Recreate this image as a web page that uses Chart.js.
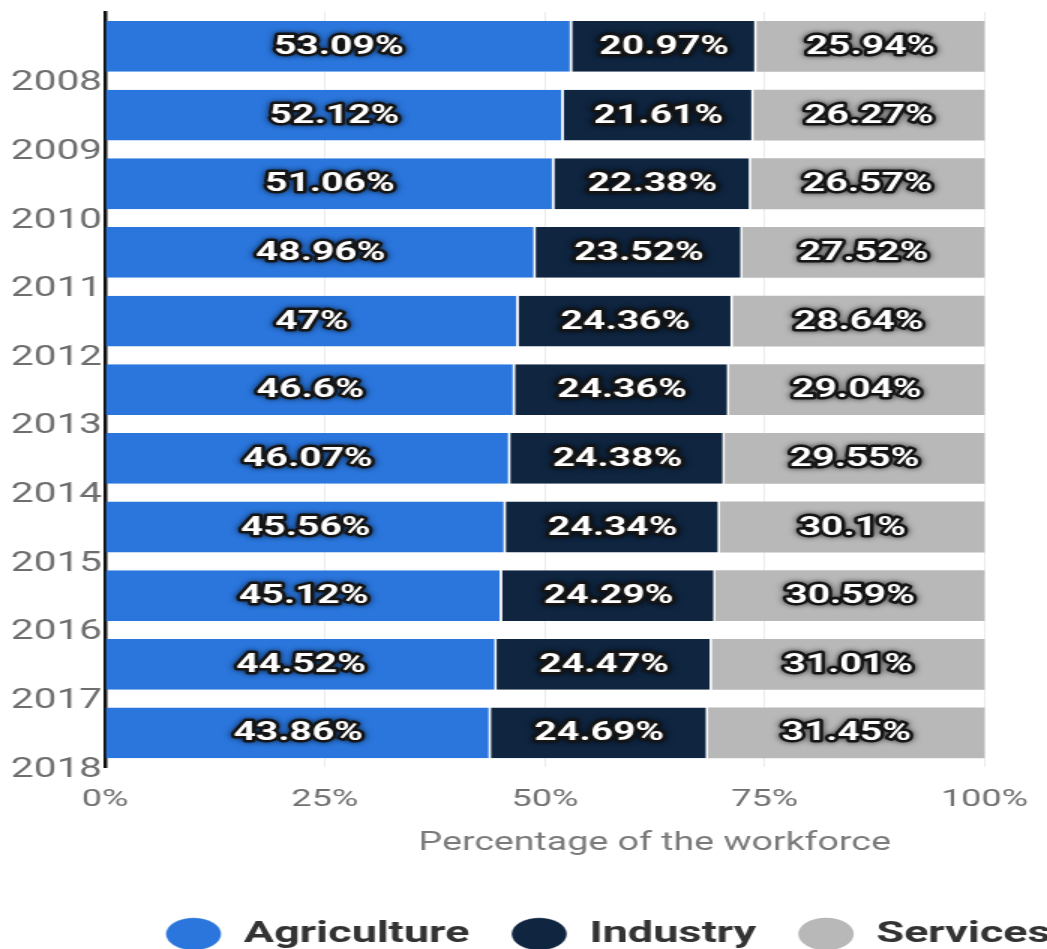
<!DOCTYPE html>
<html>
<head>
<meta charset="utf-8">
<script src="https://cdn.jsdelivr.net/npm/chart.js@4"></script>
<style>
  html, body { margin: 0; padding: 0; background: #fff; overflow: hidden; width: 1047px; height: 949px; }
  /* the reference is a horizontally stretched screenshot */
  #wrap { width: 811px; height: 959px; transform: scaleX(1.5); transform-origin: 0 0; }
</style>
</head>
<body>
<div id="wrap"><canvas id="workforceChart" width="811" height="959"></canvas></div>
<script>
const years = ['2008', '2009', '2010', '2011', '2012', '2013', '2014', '2015', '2016', '2017', '2018'];
const agriculture = [53.09, 52.12, 51.06, 48.96, 47, 46.6, 46.07, 45.56, 45.12, 44.52, 43.86];
const industry = [20.97, 21.61, 22.38, 23.52, 24.36, 24.36, 24.38, 24.34, 24.29, 24.47, 24.69];
const services = [25.94, 26.27, 26.57, 27.52, 28.64, 29.04, 29.55, 30.1, 30.59, 31.01, 31.45];
const xTickValues = [0, 25, 50, 75, 100];

Chart.defaults.font.family = 'Roboto';

// Draw value labels in the middle of each segment (white with dark outline)
const barLabels = {
  id: 'barLabels',
  afterDatasetsDraw(chart) {
    const ctx = chart.ctx;
    ctx.save();
    ctx.font = 'bold 26px Roboto';
    ctx.textAlign = 'center';
    ctx.textBaseline = 'middle';
    ctx.lineJoin = 'round';
    chart.data.datasets.forEach((ds, i) => {
      chart.getDatasetMeta(i).data.forEach((bar, j) => {
        const cx = (bar.x + bar.base) / 2;
        const txt = ds.data[j] + '%';
        ctx.shadowColor = 'rgba(0,0,0,0.7)';
        ctx.shadowBlur = 5;
        ctx.lineWidth = 5;
        ctx.strokeStyle = '#151515';
        ctx.strokeText(txt, cx, bar.y + 1);
        ctx.shadowBlur = 0;
        ctx.fillStyle = '#fff';
        ctx.fillText(txt, cx, bar.y + 1);
      });
    });
    ctx.restore();
  }
};

const ctx = document.getElementById('workforceChart').getContext('2d');
new Chart(ctx, {
  type: 'bar',
  data: {
    labels: years,
    datasets: [
      {
        label: 'Agriculture',
        data: agriculture,
        backgroundColor: '#2a76dd',
        borderColor: '#fff',
        borderWidth: { top: 0, right: 1.5, bottom: 0, left: 0 },
        borderSkipped: false
      },
      {
        label: 'Industry',
        data: industry,
        backgroundColor: '#0f2540',
        borderColor: '#fff',
        borderWidth: { top: 0, right: 1.5, bottom: 0, left: 0 },
        borderSkipped: false
      },
      {
        label: 'Services',
        data: services,
        backgroundColor: '#b8b8b8',
        borderWidth: 0
      }
    ]
  },
  options: {
    indexAxis: 'y',
    responsive: false,
    animation: false,
    barPercentage: 0.74,
    categoryPercentage: 1,
    layout: { padding: { top: 10, right: 0, left: 0, bottom: 0 } },
    scales: {
      x: {
        stacked: true,
        min: 0,
        max: 125,
        afterBuildTicks: function(scale) {
          scale.ticks = xTickValues.concat([125]).map(v => ({ value: v }));
        },
        ticks: {
          padding: 8,
          color: '#707070',
          font: { size: 24, lineHeight: 2.03 },
          callback: function(value) {
            return value <= 100 ? value + '%' : '';
          }
        },
        grid: {
          drawTicks: false,
          color: function(c) {
            return c.tick && c.tick.value > 0 && c.tick.value <= 100 ? 'rgba(0,0,0,0.08)' : 'rgba(0,0,0,0)';
          }
        },
        border: { display: false },
        title: {
          display: true,
          text: 'Percentage of the workforce',
          color: '#7a7a7a',
          font: { size: 25 },
          padding: { top: -3, bottom: 32 }
        }
      },
      y: {
        stacked: true,
        z: 1,
        afterFit: function(scale) {
          scale.width = 70;
        },
        ticks: {
          padding: 2,
          labelOffset: 37,
          color: '#6e6e6e',
          font: { size: 27, lineHeight: 0.75 }
        },
        grid: { display: false, drawTicks: false },
        border: { display: true, color: '#111', width: 2.5 }
      }
    },
    plugins: {
      tooltip: { enabled: false },
      legend: {
        position: 'bottom',
        labels: {
          usePointStyle: true,
          pointStyle: 'circle',
          pointStyleWidth: 37,
          boxHeight: 23,
          padding: 28,
          color: '#333',
          font: { size: 30, weight: 'bold' }
        }
      }
    }
  },
  plugins: [barLabels]
});
</script>
</body>
</html>
